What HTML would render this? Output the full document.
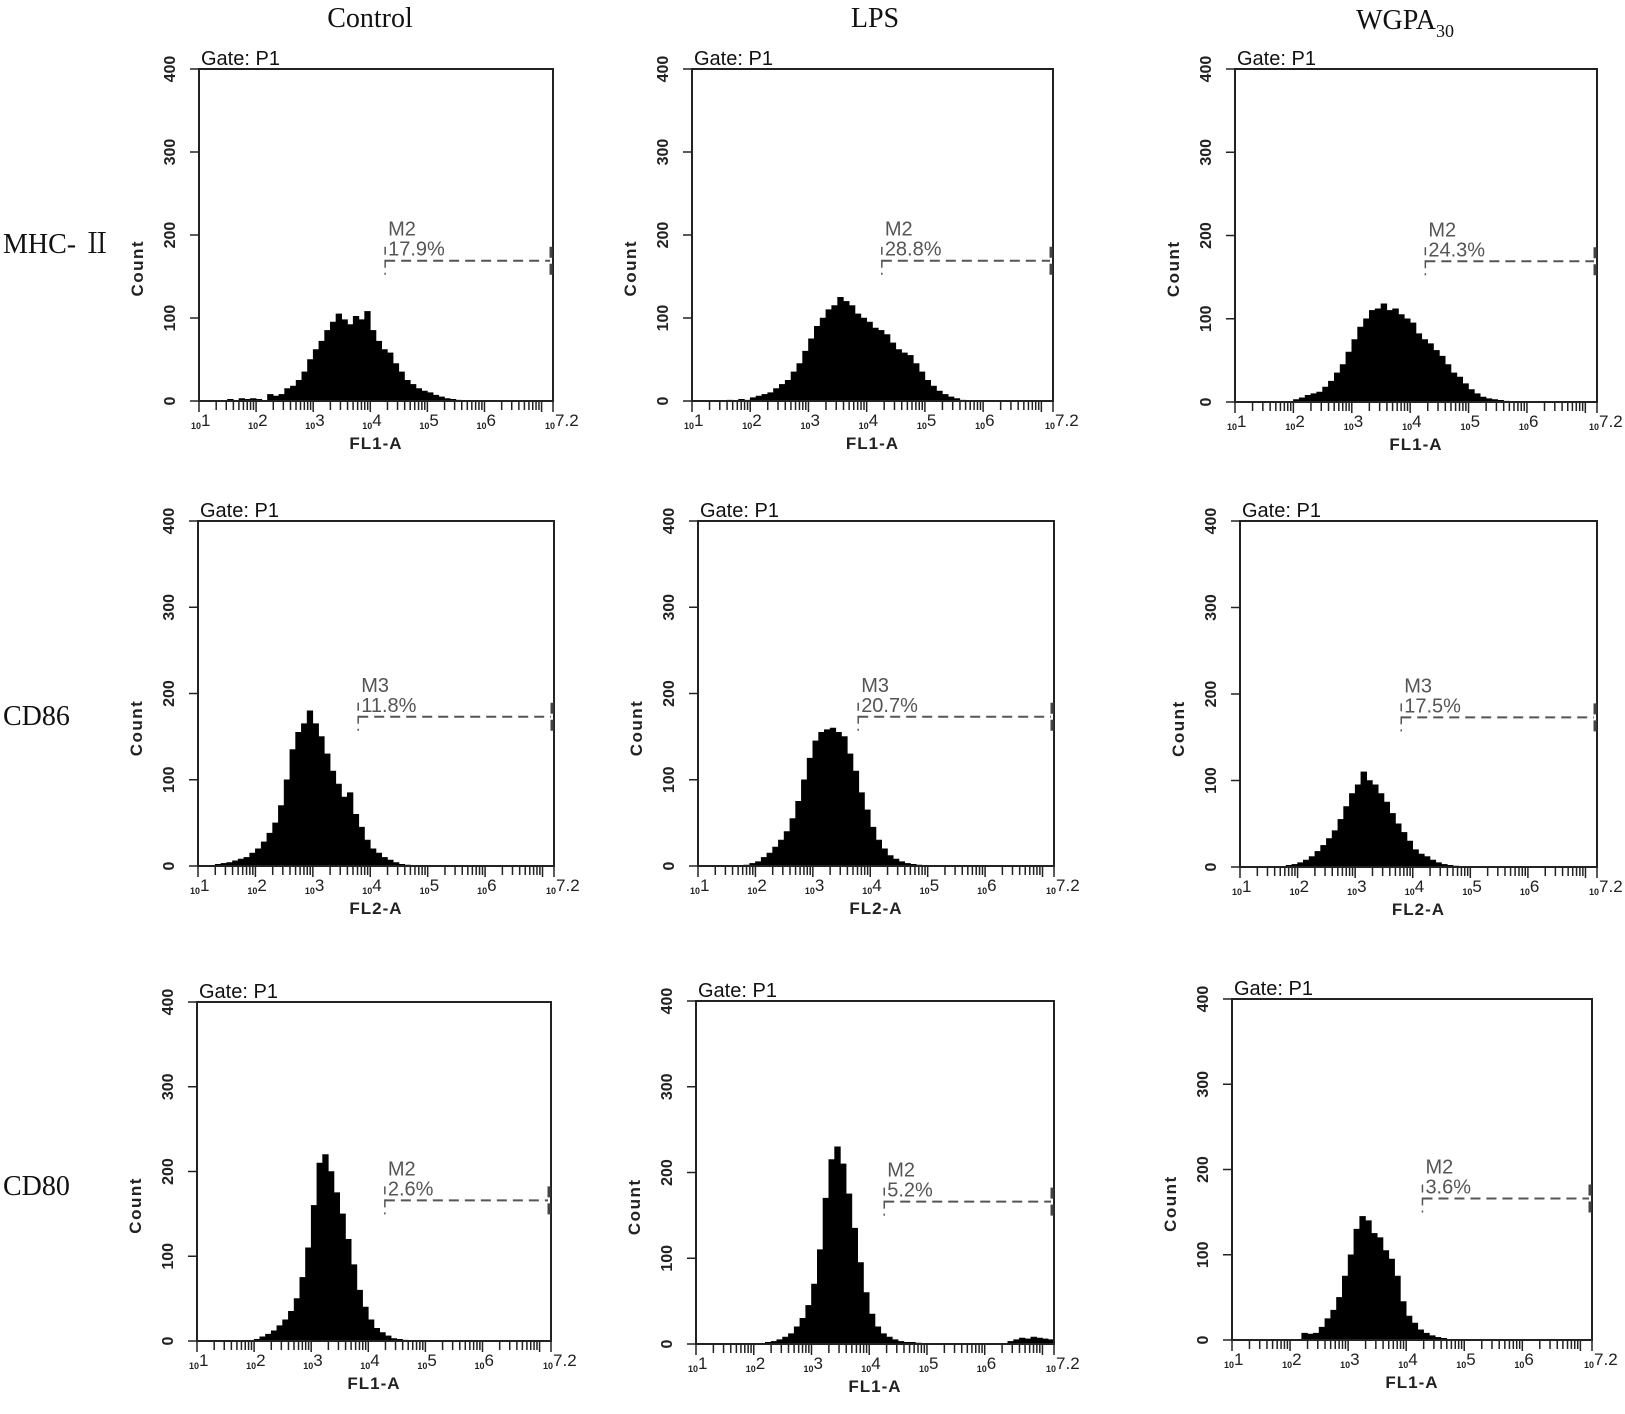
<!DOCTYPE html>
<html><head><meta charset="utf-8">
<style>
html,body{margin:0;padding:0;background:#fff;}
svg{display:block;}
.ser{font-family:"Liberation Serif","Noto Serif CJK SC",serif;font-size:28px;fill:#111;}
.ss{font-family:"Liberation Sans",sans-serif;}
</style></head>
<body>
<svg id="fig" width="1625" height="1414" viewBox="0 0 1625 1414" xmlns="http://www.w3.org/2000/svg">
<text class="ser" x="370" y="27" text-anchor="middle">Control</text>
<text class="ser" x="875" y="27" text-anchor="middle">LPS</text>
<text class="ser" x="1405" y="29" text-anchor="middle">WGPA<tspan font-size="18" dy="8">30</tspan></text>
<text class="ser" x="3" y="253">MHC- <tspan font-family="Noto Serif CJK SC, serif">Ⅱ</tspan></text>
<text class="ser" x="3" y="725">CD86</text>
<text class="ser" x="3" y="1195">CD80</text>
</svg>
<script>
// Data: histogram counts per 0.1-decade bin, starting at the given log10 start value
const panelNames = ["mhc-control","mhc-lps","mhc-wgpa","cd86-control","cd86-lps","cd86-wgpa","cd80-control","cd80-lps","cd80-wgpa"];
const xLabels = ["FL1-A","FL1-A","FL1-A","FL2-A","FL2-A","FL2-A","FL1-A","FL1-A","FL1-A"];
const gateNames = ["M2","M2","M2","M3","M3","M3","M2","M2","M2"];
const gatePercents = ["17.9%","28.8%","24.3%","11.8%","20.7%","17.5%","2.6%","5.2%","3.6%"];
const gateStartLog = [4.26,4.26,4.26,3.79,3.79,3.8,4.29,4.26,4.28];
const gateCount = [169,169,169,173,173,173,166,166,166];
const histStart = [1.5,1.6,2.0,1.3,1.8,1.8,2.0,2.2,2.2];
const hist0 = [2,0,3,2,3,2,0,8,6,8,15,18,25,35,50,62,72,85,95,105,98,92,102,98,108,85,72,62,58,45,35,25,20,15,12,10,7,5,3,2,1];
const hist1 = [1,0,2,1,4,6,8,10,15,20,25,35,45,60,75,90,100,110,115,125,120,115,105,100,95,88,85,80,70,62,58,55,45,35,25,18,12,8,5,3,1];
const hist2 = [3,5,8,10,12,18,25,35,45,60,75,90,100,110,112,118,110,112,105,100,95,82,75,70,62,55,45,35,30,22,15,10,6,4,3,2,1];
const hist3 = [2,3,4,6,8,10,15,20,28,38,50,70,100,135,155,165,180,165,150,130,110,95,80,85,60,45,30,20,15,10,7,4,2,1];
const hist4 = [1,3,5,10,15,22,30,40,55,75,100,125,145,155,158,160,155,150,130,110,85,65,45,30,20,12,8,5,3,2,1];
const hist5 = [2,3,5,8,12,18,25,33,42,55,70,85,95,110,100,95,85,75,62,50,40,30,20,15,12,8,5,3,2,1];
const hist6 = [2,5,8,12,18,25,35,50,75,110,160,210,220,200,175,150,120,90,60,40,25,15,10,6,3,2,1];
const hist7 = [2,3,5,8,12,20,30,45,70,110,170,215,230,210,175,135,95,60,35,20,12,8,5,3,2,2,1,0,0,0,0,0,0,0,0,0,0,0,0,0,0,0,3,5,7,6,8,7,6,5];
const hist8 = [8,7,8,15,25,35,50,75,100,130,145,140,125,120,105,95,75,45,28,20,12,8,5,3,2];
const hists = [hist0,hist1,hist2,hist3,hist4,hist5,hist6,hist7,hist8];
const yTicks = [0,100,200,300,400];
const xDecades = [1,2,3,4,5,6];
const xMax = 7.2, xMin = 1, yMax = 400;

// Layout (pixel geometry of each plot frame)
const frames = [[199,69,354,332],[692,69,361,332],[1235,69,362,333],
                [198,521,356,345],[698,521,356,345],[1240,521,357,346],
                [197,1002,354,339],[696,1001,358,343],[1232,999,360,341]];
const NS = "http://www.w3.org/2000/svg";
const svg = document.getElementById('fig');
function mk(tag, attrs, parent){const e=document.createElementNS(NS,tag);for(const k in attrs)e.setAttribute(k,attrs[k]);(parent||svg).appendChild(e);return e;}

frames.forEach((f,i)=>{
  const [L,T,W,H]=f;
  const xs = v => L + (v - xMin)/(xMax - xMin)*W;
  const ys = c => T + H - Math.min(c,yMax)/yMax*H;
  const g = mk('g',{});
  
  
  const h = hists[i];
  let d = 'M'+xs(histStart[i])+','+ys(0);
  h.forEach((c,k)=>{const a=xs(histStart[i]+k*0.1), b=xs(histStart[i]+(k+1)*0.1);d+=' L'+a.toFixed(1)+','+ys(c).toFixed(1)+' L'+b.toFixed(1)+','+ys(c).toFixed(1);});
  d+=' L'+xs(histStart[i]+h.length*0.1).toFixed(1)+','+ys(0)+' Z';
  const hp = mk('path',{d:d,fill:'#000',stroke:'#000','stroke-width':0.6},g);
  
  
  const fr = mk('rect',{x:L,y:T,width:W,height:H,fill:'none',stroke:'#222','stroke-width':2},g);
  
  
  yTicks.forEach(t=>{
    mk('line',{x1:L-9,x2:L,y1:ys(t),y2:ys(t),stroke:'#222','stroke-width':1.5},g);
    const tx = mk('text',{x:L-24,y:ys(t),transform:'rotate(-90 '+(L-24)+' '+ys(t)+')','text-anchor':'middle',class:'ss','font-size':16,fill:'#222','font-weight':'bold'},g);
    
    
    tx.textContent = t;
  });
  for(let dd=1; dd<=7; dd++){
    for(let k=1;k<=9;k++){
      const v = dd+Math.log10(k);
      if(v>xMax) break;
      mk('line',{x1:xs(v),x2:xs(v),y1:T+H,y2:T+H+(k===1?11:9),stroke:'#222','stroke-width':1.5},g);
    }
  }
  mk('line',{x1:L+W,x2:L+W,y1:T+H,y2:T+H+11,stroke:'#222','stroke-width':1.5},g);
  const xl = xDecades.map(v=>[v,String(v)]).concat([[xMax,'7.2']]);
  xl.forEach(([v,s])=>{
    const tx = mk('text',{x:xs(v)-8,y:T+H+28,class:'ss',fill:'#222','font-size':9,'font-weight':'bold'},g);
    
    
    tx.textContent='10';
    const sp = mk('tspan',{'font-size':17,dy:-3,'font-weight':'normal'},tx); sp.textContent=s;
  });
  const xt = mk('text',{x:L+W/2,y:T+H+48,'text-anchor':'middle',class:'ss','font-size':17,'font-weight':'bold',fill:'#222','letter-spacing':1},g);
  
  
  xt.textContent = xLabels[i];
  const yt = mk('text',{x:L-56,y:T+H*0.6,transform:'rotate(-90 '+(L-56)+' '+(T+H*0.6)+')','text-anchor':'middle',class:'ss','font-size':17,'font-weight':'bold',fill:'#222','letter-spacing':1.5},g);
  
  
  yt.textContent = 'Count';
  const gt = mk('text',{x:L+2,y:T-4,class:'ss','font-size':20,fill:'#111'},g);
  
  
  gt.textContent = 'Gate: P1';
  const mx = xs(gateStartLog[i]), my = ys(gateCount[i]);
  const mg = mk('g',{},g);
  
  
  mk('line',{x1:mx,x2:L+W-3,y1:my,y2:my,stroke:'#555','stroke-width':2,'stroke-dasharray':'10,6'},mg);
  mk('line',{x1:mx,x2:mx,y1:my-14,y2:my+14,stroke:'#555','stroke-width':1.5,'stroke-dasharray':'8,5'},mg);
  mk('line',{x1:L+W-2,x2:L+W-2,y1:my-14,y2:my+14,stroke:'#444','stroke-width':3,'stroke-dasharray':'11,6'},mg);
  const m1 = mk('text',{x:mx+3,y:my-25,class:'ss','font-size':20,fill:'#555'},mg);
  
  
  m1.textContent = gateNames[i];
  const m2 = mk('text',{x:mx+3,y:my-5,class:'ss','font-size':20,fill:'#555'},mg);
  
  
  m2.textContent = gatePercents[i];
});
</script>
</body></html>
